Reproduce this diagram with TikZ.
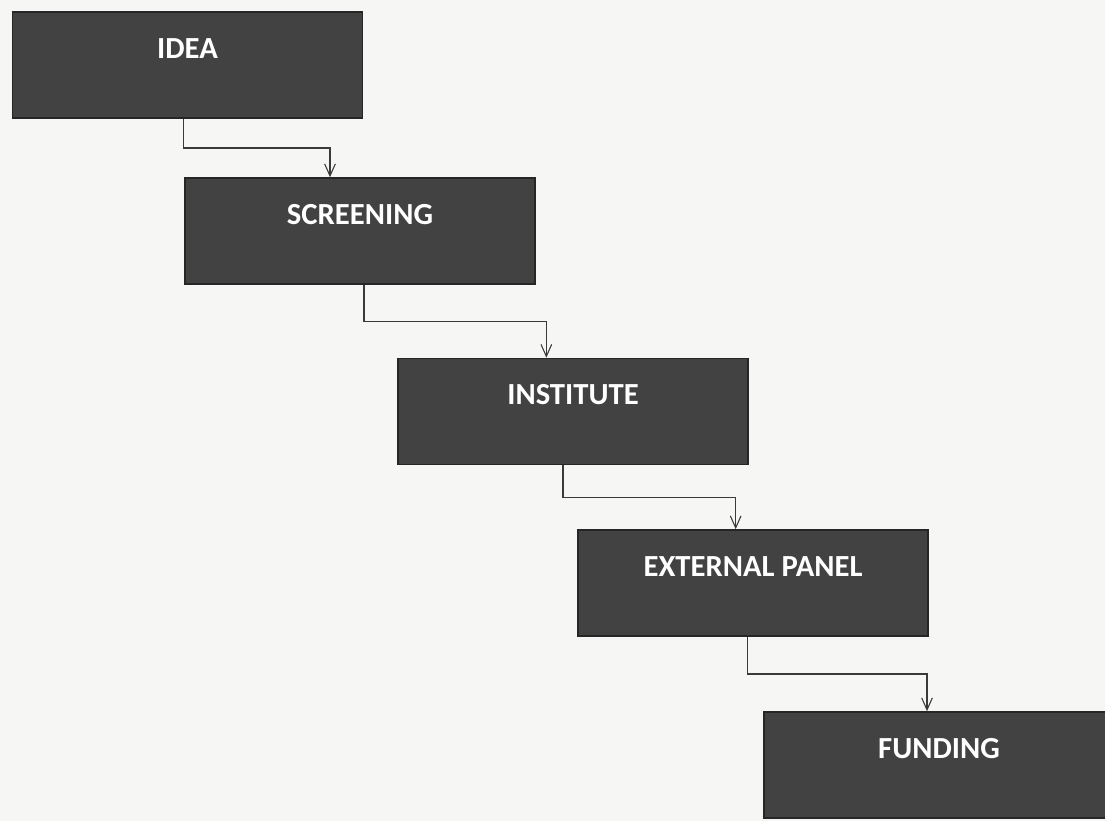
\documentclass[tikz,border=0pt]{standalone}
\usepackage{fontspec}
\setmainfont{Carlito}
\usetikzlibrary{arrows.meta,calc}
\definecolor{boxgray}{HTML}{424242}
\definecolor{edgegray}{HTML}{262626}
\definecolor{linegray}{HTML}{3A3A3A}
\definecolor{paper}{HTML}{F6F6F4}
\tikzset{
  stage/.style={draw=edgegray,line width=1.2pt,fill=boxgray,text=white,
    font=\fontsize{23}{26}\selectfont\bfseries,
    minimum width=262.5pt,inner xsep=0pt,inner ysep=0pt,
    text height=34.5pt,text depth=45pt},
  flow/.style={draw=linegray,line width=0.9pt,
    -{Straight Barb[length=9pt,width=8pt,line width=0.8pt]}}
}
\begin{document}
\begin{tikzpicture}[x=0.75pt,y=-0.75pt]
    \fill[paper] (0,0) rectangle (1105,821);
    \useasboundingbox (0,0) rectangle (1105,821);
    %% stages
    \node[stage] (idea) at (187.5,65) {IDEA};
    \node[stage] (screen) at (360,231) {SCREENING};
    \node[stage] (inst) at (573,411.5) {INSTITUTE};
    \node[stage] (panel) at (753,583) {EXTERNAL PANEL};
    \node[stage] (fund) at (939,765) {FUNDING};
    %% connectors
    \foreach \a/\b/\s/\t in {idea/screen/-3/-22.5,screen/inst/3/-20,
        inst/panel/-7.5/-13,panel/fund/-4/-9}
      \draw[flow] ([xshift=\s pt]\a.south) |- ($(\a.south)!.5!(\b.north)$)
        -| ([xshift=\t pt]\b.north);
\end{tikzpicture}
\end{document}
